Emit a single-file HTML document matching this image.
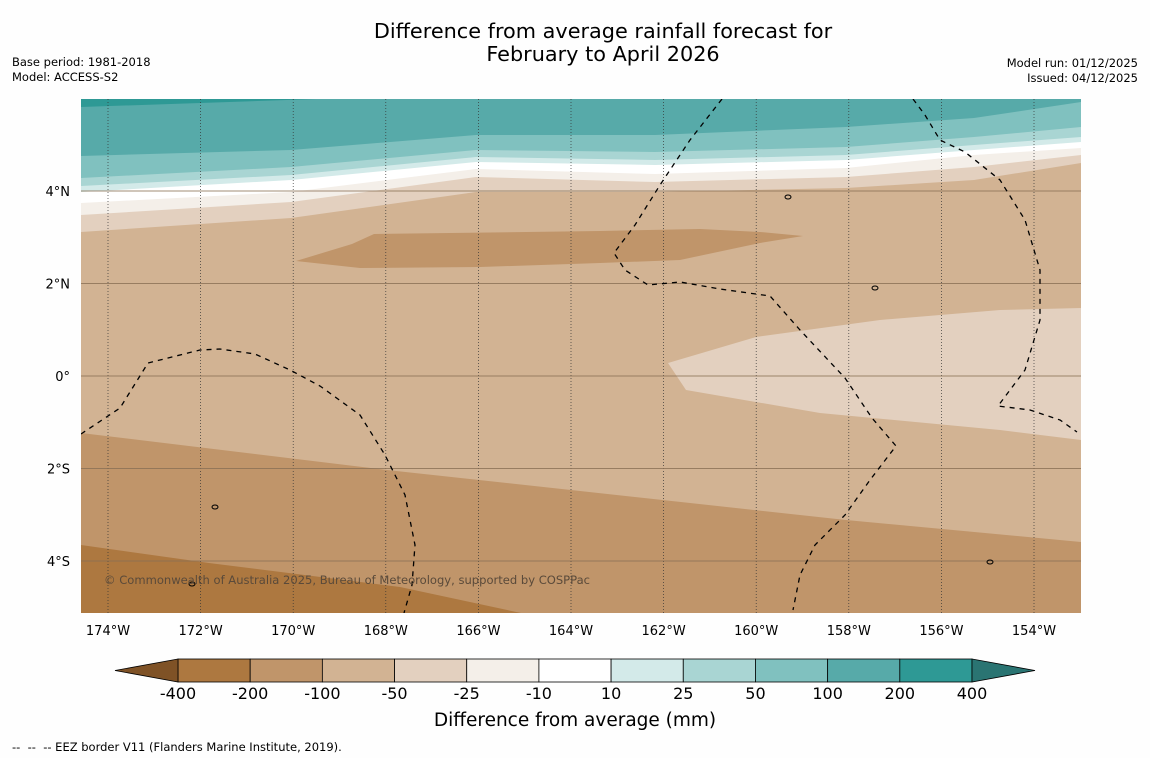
<!DOCTYPE html>
<html><head><meta charset="utf-8"><style>
body{margin:0;background:#fff;width:1150px;height:758px;overflow:hidden;font-family:"Liberation Sans","DejaVu Sans",sans-serif}
svg text{font-family:"DejaVu Sans","Liberation Sans",sans-serif}
</style></head><body>
<svg id="c" width="1150" height="758" xmlns="http://www.w3.org/2000/svg">
<rect width="1150" height="758" fill="#fefefe"/>
<text x="603" y="38" font-size="20.8" text-anchor="middle">Difference from average rainfall forecast for</text>
<text x="603" y="61" font-size="20.8" text-anchor="middle">February to April 2026</text>
<text x="12" y="66" font-size="11.5">Base period: 1981-2018</text>
<text x="12" y="81" font-size="11.5">Model: ACCESS-S2</text>
<text x="1138" y="67" font-size="11.5" text-anchor="end">Model run: 01/12/2025</text>
<text x="1138" y="82" font-size="11.5" text-anchor="end">Issued: 04/12/2025</text>
<defs><clipPath id="mc"><rect x="81" y="99" width="1000" height="514"/></clipPath></defs>
<g id="map" clip-path="url(#mc)"></g>
<g id="axes"></g>
<g id="cbar"></g>
<text x="575" y="726" font-size="18.5" text-anchor="middle">Difference from average (mm)</text>
<text x="12" y="751" font-size="11.5" xml:space="preserve">--  --  -- EEZ border V11 (Flanders Marine Institute, 2019).</text>
</svg>
<script>
const lonTicks=[-174,-172,-170,-168,-166,-164,-162,-160,-158,-156,-154];
const latTicks=[4,2,0,-2,-4];
const levels=[-400,-200,-100,-50,-25,-10,10,25,50,100,200,400];
const colors=["#ad7840","#c0956a","#d2b393","#e3d0bf","#f4efe9","#ffffff","#d3eae9","#a9d5d3","#80c1bf","#57aaa9","#2e9995"];
const NS="http://www.w3.org/2000/svg";
const X=lon=>108+(lon+174)*46.3;
const Y=lat=>376-lat*46.25;
const map=document.getElementById('map'),axes=document.getElementById('axes'),cb=document.getElementById('cbar');
function mk(tag,at,par){const e=document.createElementNS(NS,tag);for(const k in at)e.setAttribute(k,at[k]);par.appendChild(e);return e;}
function poly(pts,fill,name){const e=mk('polygon',{points:pts.map(p=>p.join(',')).join(' '),fill:fill},map);

}
let bg=mk('rect',{x:81,y:99,width:1000,height:514,fill:colors[2]},map);


const xs=[81,291,476,655,846,974,1081];
const bands=[[232,218,192,192,188,180,163,3],[215,202,177,182,177,167,155,4],[203,192,169,174,168,155,148,5],[192,180,162,165,160,150,142,6],[186,175,157,160,155,145,137,7],[178,167,150,152,147,137,127,8],[156,150,135,135,127,118,102,9]];
bands.forEach(b=>{const pts=[[81,99]];xs.forEach((x,i)=>pts.push([x,b[i]]));pts.push([1081,99]);poly(pts,colors[b[7]],'contour-band');});
poly([[81,99],[81,107],[200,103],[316,99]],colors[10],'contour-200-400');
poly([[296,261],[352,244],[374,234],[600,231],[700,229],[760,232],[803,236],[760,243],[680,260],[600,263],[480,267],[360,268]],colors[1],'contour-blob-north');
poly([[668,363],[756,337],[880,320],[1000,310],[1081,308],[1081,440],[1000,430],[820,413],[686,390]],colors[3],'contour-blob-east');
poly([[81,433],[387,470],[846,520],[1081,542],[1081,613],[81,613]],colors[1],'contour-south');
poly([[81,545],[209,563],[400,587],[521,613],[81,613]],colors[0],'contour-southwest');
lonTicks.forEach(l=>{const g=mk('line',{x1:X(l),x2:X(l),y1:99,y2:613,stroke:'#333','stroke-width':0.7,'stroke-dasharray':'1,2'},map);


const t=mk('text',{x:X(l),y:635,'font-size':13,'text-anchor':'middle'},axes);t.textContent=Math.abs(l)+'°W';

});
latTicks.forEach(l=>{const g=mk('line',{x1:81,x2:1081,y1:Y(l),y2:Y(l),stroke:'#8a7055','stroke-width':1,opacity:0.8},map);


const t=mk('text',{x:70,y:Y(l)+5,'font-size':13,'text-anchor':'end'},axes);t.textContent=l==0?'0°':Math.abs(l)+'°'+(l>0?'N':'S');

});
const eez=[[[81,434],[120,408],[148,363],[200,350],[220,349],[255,354],[290,370],[320,386],[360,415],[385,455],[405,495],[415,545],[412,585],[404,613]],
[[722,99],[690,140],[660,185],[635,225],[614,253],[625,270],[648,285],[680,282],[720,289],[770,296],[800,330],[845,378],[872,418],[896,446],[870,480],[845,515],[815,545],[800,575],[793,610]],
[[913,99],[925,115],[940,140],[965,152],[1000,180],[1025,220],[1040,270],[1040,320],[1025,370],[998,406],[1030,410],[1060,420],[1077,432]]];
eez.forEach(p=>{const e=mk('polyline',{points:p.map(q=>q.join(',')).join(' '),fill:'none',stroke:'#000','stroke-width':1.3,'stroke-dasharray':'5,5'},map);

});
[[788,197],[875,288],[215,507],[192,584],[990,562]].forEach(p=>{const e=mk('ellipse',{cx:p[0],cy:p[1],rx:3,ry:2,fill:'none',stroke:'#000','stroke-width':1},map);

});
const cr=mk('text',{x:104,y:584,'font-size':11.5,fill:'#5a4a3a',textLength:486,lengthAdjust:'spacingAndGlyphs'},map);cr.textContent='© Commonwealth of Australia 2025, Bureau of Meteorology, supported by COSPPac';


const cx0=178,cw=(972-178)/11,cy=659,ch=23;
colors.forEach((c,i)=>{const r=mk('rect',{x:cx0+i*cw,y:cy,width:cw,height:ch,fill:c,stroke:'#000','stroke-width':0.8},cb);

});
const la=mk('polygon',{points:`${cx0},${cy} 115,${cy+ch/2} ${cx0},${cy+ch}`,fill:'#7f5226',stroke:'#000','stroke-width':0.8},cb);


const ra=mk('polygon',{points:`972,${cy} 1035,${cy+ch/2} 972,${cy+ch}`,fill:'#2a7472',stroke:'#000','stroke-width':0.8},cb);


levels.forEach((v,i)=>{const t=mk('text',{x:cx0+i*cw,y:699,'font-size':16,'text-anchor':'middle'},cb);t.textContent=v;

});
</script>
</body></html>
